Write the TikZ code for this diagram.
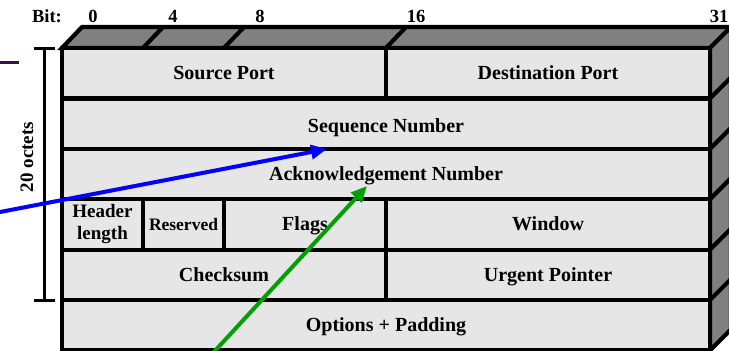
\documentclass[tikz,border=0pt]{standalone}
\usepackage{fontspec}
\setmainfont{Liberation Serif}
\usetikzlibrary{arrows.meta}
\definecolor{facegray}{RGB}{230,230,230}
\definecolor{sidegray}{RGB}{128,128,128}
\definecolor{plum}{RGB}{60,16,70}
\definecolor{arrowblue}{RGB}{0,0,255}
\definecolor{arrowgreen}{RGB}{0,160,0}

\begin{document}
\begin{tikzpicture}[x=1pt,y=-1pt,
  cell/.style={draw=black, fill=facegray, line width=4.2pt, inner sep=0pt,
    font=\fontsize{20}{22}\selectfont\bfseries, text=black, align=center,
    text height=12.4pt, text depth=0pt},
  bevel/.style={draw=black, fill=sidegray, line width=4.2pt, line join=miter},
  edge/.style={draw=black, line width=4.2pt},
  bitlabel/.style={font=\fontsize{18.5}{20}\selectfont\bfseries, inner sep=0pt},
  bracket/.style={draw=black, line width=3pt},
  pointer/.style={line width=4pt, -{Triangle[length=16pt,width=14pt]}}
]
\useasboundingbox (0,0) rectangle (729,351);

% top and right faces of the header block
\draw[bevel] (62,48) -- (82,27) -- (731,27) -- (710,48) -- cycle;
\draw[bevel] (710,48) -- (731,27) -- (731,329.4) -- (710,350.4) -- cycle;

% bit boundaries on the top face
\foreach \bx in {143,224,386} \draw[edge] (\bx,48) -- (\bx+20,27);
% row boundaries on the side face
\foreach \ry in {98.4,148.8,199.2,249.6,300} \draw[edge] (710,\ry) -- (731,\ry-21);

% bit numbers
\node[bitlabel] (bitcap) at (47,16) {Bit:};
\node[bitlabel] (b0) at (93,16) {0};
\node[bitlabel] (b4) at (173,16) {4};
\node[bitlabel] (b8) at (260,16) {8};
\node[bitlabel] (b16) at (416,16) {16};
\node[bitlabel] (b31) at (719,16) {31};

% header fields
\node[cell, minimum width=324pt, minimum height=50.4pt] (src) at (224,73.2) {Source Port};
\node[cell, minimum width=324pt, minimum height=50.4pt] (dst) at (548,73.2) {Destination Port};
\node[cell, minimum width=648pt, minimum height=50.4pt, text height=18.4pt] (seq) at (386,123.6) {Sequence Number};
\node[cell, minimum width=648pt, minimum height=50.4pt] (ack) at (386,174) {Acknowledgement Number};
\node[cell, minimum width=81pt, minimum height=50.4pt, font=\fontsize{19}{22}\selectfont\bfseries,
      text height=31pt] (hlen) at (102.5,224.4) {Header\\length};
\node[cell, minimum width=81pt, minimum height=50.4pt, font=\fontsize{17.5}{20}\selectfont\bfseries,
      text height=12.6pt] (res) at (183.5,224.4) {Reserved};
\node[cell, minimum width=162pt, minimum height=50.4pt] (flags) at (305,224.4) {Flags};
\node[cell, minimum width=324pt, minimum height=50.4pt] (win) at (548,224.4) {Window};
\node[cell, minimum width=324pt, minimum height=50.4pt] (chk) at (224,274.8) {Checksum};
\node[cell, minimum width=324pt, minimum height=50.4pt] (urg) at (548,274.8) {Urgent Pointer};
\node[cell, minimum width=648pt, minimum height=50.4pt] (opt) at (386,325.2) {Options + Padding};

% size bracket
\coordinate (brTop) at (44,48);
\coordinate (brBot) at (44,300);
\draw[bracket] (34,48) -- (55,48);
\draw[bracket] (34,300) -- (55,300);
\draw[bracket] (brTop) -- (brBot);
\node[rotate=90, font=\fontsize{19}{22}\selectfont\bfseries, inner sep=0pt] (octets) at (27,157) {20 octets};

% short rule at the left edge
\draw[plum, line width=3pt] (0,62) -- (19,62);

% pointers
\coordinate (blueFrom) at (-2,212.4);
\coordinate (blueTo) at (327,149);
\draw[pointer, arrowblue] (blueFrom) -- (blueTo);
\coordinate (greenFrom) at (212,354);
\coordinate (greenTo) at (367,186);
\draw[pointer, arrowgreen] (greenFrom) -- (greenTo);
\end{tikzpicture}
\end{document}
